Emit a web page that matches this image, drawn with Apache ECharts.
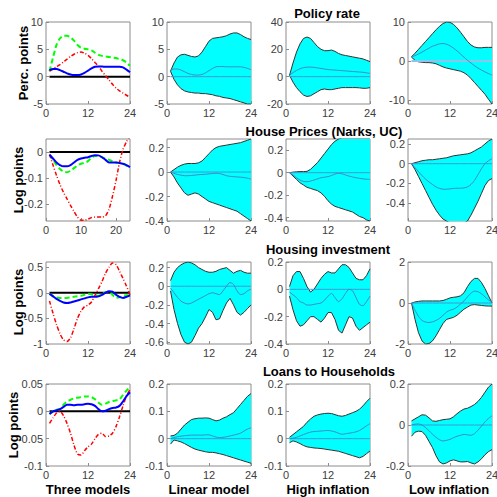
<!DOCTYPE html>
<html>
<head>
<meta charset="utf-8">
<script src="https://cdn.jsdelivr.net/npm/echarts@6/dist/echarts.min.js"></script>
<style>
  html, body { margin: 0; padding: 0; background: #fff; }
  #main { width: 497px; height: 497px; }
</style>
</head>
<body>
<div id="main"></div>
<script>
// horizons (quarters)
const horizons = [1,2,3,4,5,6,7,8,9,10,11,12,13,14,15,16,17,18,19,20,21,22,23,24]

const rowTitles = ['Policy rate', 'House Prices (Narks, UC)', 'Housing investment', 'Loans to Households']
const colLabels = ['Three models', 'Linear model', 'High inflation', 'Low inflation']
const yNames = ['Perc. points', 'Log points', 'Log points', 'Log points']

// ---- Policy rate
const policyBlue = [1.2,1.4,1.4,1.2,0.9,0.6,0.4,0.3,0.3,0.4,0.7,1.1,1.5,1.8,1.85,1.85,1.8,1.8,1.8,1.8,1.8,1.7,1.3,0.8]
const policyGreen = [1.0,3.5,5.8,7.0,7.5,7.5,7.2,6.6,5.8,5.3,5.1,5.0,4.8,4.4,4.0,3.8,3.7,3.6,3.5,3.4,3.2,3.0,2.6,2.0]
const policyRed = [1.0,1.4,1.8,2.2,2.7,3.2,3.7,4.1,4.4,4.5,4.3,3.9,3.3,2.6,1.9,1.0,0.2,-0.6,-1.4,-2.1,-2.6,-3.0,-3.4,-3.8]
const policyLinUp = [1.0,2.5,3.6,4.0,4.1,3.9,3.7,3.6,3.8,4.5,5.5,6.5,7.0,7.1,7.2,7.3,7.5,7.8,8.0,8.0,7.7,7.3,7.0,6.8]
const policyLinLo = [1.0,-0.5,-1.5,-2.2,-2.6,-2.8,-2.9,-3.0,-3.0,-3.1,-3.1,-3.2,-3.3,-3.5,-3.6,-3.8,-3.9,-4.0,-4.2,-4.4,-4.6,-4.8,-5.0,-5.0]
const policyLinMed = [1.2,1.4,1.4,1.2,0.9,0.6,0.4,0.3,0.3,0.4,0.7,1.1,1.5,1.8,1.85,1.85,1.8,1.8,1.8,1.8,1.8,1.7,1.5,1.3]
const policyHiUp = [1,10,18,24,28,29,28,25,22,20,19,19,19.5,18.5,17,16,15.5,15,14.5,14,13.5,13,12,11]
const policyHiLo = [1,-4,-8,-11,-13.5,-14.5,-14,-12.5,-11,-9.5,-9,-9.5,-9.5,-9,-8.5,-8,-8,-8,-8,-8,-8.2,-8.5,-8.5,-8]
const policyHiMed = [1,3,4.5,5.8,6.6,7,7,6.8,6.4,6,5.6,5.2,5,4.8,4.6,4.4,4.2,4,3.8,3.6,3.4,3.2,2.8,2.4]
const policyLoUp = [1.1,2.0,3.0,4.0,5.0,6.0,7.0,8.0,8.9,9.6,10,9.9,9.4,8.5,7.4,6.2,5.0,4.1,3.6,3.4,3.4,3.5,3.5,3.5]
const policyLoLo = [1,0.2,-0.2,-0.3,-0.4,-0.4,-0.5,-0.7,-1.1,-1.5,-1.8,-2.0,-2.2,-2.4,-2.6,-3.0,-3.6,-4.5,-5.5,-6.5,-7.5,-8.5,-9.8,-11]
const policyLoMed = [1,1.4,1.8,2.3,2.8,3.3,3.8,4.1,4.4,4.5,4.3,3.9,3.3,2.6,1.8,1.0,0.2,-0.5,-1.2,-1.8,-2.3,-2.8,-3.2,-3.6]

// ---- House prices
const houseBlue = [-0.01,-0.025,-0.04,-0.05,-0.055,-0.055,-0.05,-0.04,-0.03,-0.025,-0.022,-0.02,-0.015,-0.012,-0.013,-0.02,-0.03,-0.04,-0.04,-0.04,-0.042,-0.045,-0.05,-0.058]
const houseGreen = [-0.01,-0.03,-0.05,-0.065,-0.075,-0.078,-0.072,-0.062,-0.052,-0.045,-0.042,-0.035,-0.022,-0.015,-0.015,-0.02,-0.025,-0.03,-0.035,-0.04,-0.042,-0.045,-0.052,-0.06]
const houseRed = [-0.01,-0.05,-0.09,-0.125,-0.155,-0.18,-0.205,-0.228,-0.25,-0.262,-0.262,-0.258,-0.252,-0.25,-0.25,-0.25,-0.245,-0.22,-0.17,-0.11,-0.04,0.01,0.04,0.06]
const houseLinUp = [0,0.02,0.04,0.055,0.065,0.07,0.07,0.07,0.075,0.09,0.12,0.15,0.18,0.2,0.21,0.215,0.22,0.225,0.23,0.235,0.24,0.25,0.26,0.27]
const houseLinLo = [0,-0.04,-0.09,-0.13,-0.17,-0.19,-0.18,-0.17,-0.18,-0.2,-0.22,-0.24,-0.25,-0.26,-0.27,-0.28,-0.29,-0.3,-0.31,-0.32,-0.34,-0.36,-0.38,-0.4]
const houseLinMed = [0,-0.01,-0.02,-0.025,-0.03,-0.03,-0.028,-0.025,-0.022,-0.02,-0.018,-0.015,-0.012,-0.01,-0.012,-0.02,-0.03,-0.035,-0.038,-0.04,-0.042,-0.045,-0.05,-0.058]
const houseHiUp = [0,0.005,0.008,0.01,0.01,0.012,0.03,0.06,0.09,0.13,0.17,0.21,0.25,0.28,0.3,0.31,0.31,0.31,0.31,0.31,0.31,0.31,0.31,0.31]
const houseHiLo = [0,-0.03,-0.06,-0.09,-0.11,-0.13,-0.14,-0.15,-0.16,-0.18,-0.21,-0.25,-0.28,-0.3,-0.31,-0.32,-0.33,-0.34,-0.35,-0.37,-0.39,-0.4,-0.42,-0.43]
const houseHiMed = [0,-0.02,-0.045,-0.065,-0.078,-0.08,-0.075,-0.065,-0.055,-0.045,-0.04,-0.035,-0.025,-0.012,-0.005,-0.01,-0.02,-0.03,-0.038,-0.045,-0.05,-0.055,-0.058,-0.06]
const houseLoUp = [0,0.01,0.02,0.03,0.035,0.04,0.04,0.045,0.05,0.055,0.06,0.07,0.08,0.085,0.09,0.095,0.1,0.11,0.13,0.15,0.17,0.2,0.23,0.25]
const houseLoLo = [0,-0.06,-0.13,-0.2,-0.27,-0.34,-0.41,-0.47,-0.52,-0.56,-0.58,-0.6,-0.6,-0.6,-0.6,-0.6,-0.58,-0.52,-0.45,-0.38,-0.3,-0.22,-0.17,-0.15]
const houseLoMed = [0,-0.04,-0.08,-0.12,-0.155,-0.185,-0.21,-0.235,-0.25,-0.258,-0.258,-0.255,-0.25,-0.248,-0.248,-0.245,-0.235,-0.21,-0.17,-0.11,-0.05,0.0,0.03,0.05]

// ---- Housing investment
const investBlue = [-0.02,-0.07,-0.12,-0.16,-0.19,-0.2,-0.19,-0.17,-0.15,-0.13,-0.11,-0.09,-0.08,-0.08,-0.07,-0.04,0.0,0.03,0.02,-0.04,-0.08,-0.1,-0.08,-0.05]
const investGreen = [-0.02,-0.06,-0.09,-0.1,-0.1,-0.1,-0.09,-0.08,-0.07,-0.06,-0.04,-0.02,-0.03,-0.05,-0.06,-0.03,0.01,0.02,-0.04,-0.1,-0.09,-0.06,-0.05,-0.05]
const investRed = [-0.16,-0.4,-0.62,-0.8,-0.92,-0.95,-0.88,-0.7,-0.5,-0.36,-0.27,-0.24,-0.18,-0.05,0.08,0.22,0.38,0.5,0.58,0.55,0.42,0.28,0.13,-0.04]
const investLinUp = [0.06,0.15,0.2,0.23,0.25,0.26,0.25,0.23,0.2,0.18,0.16,0.15,0.15,0.16,0.18,0.19,0.2,0.17,0.14,0.16,0.17,0.15,0.14,0.14]
const investLinLo = [-0.05,-0.25,-0.4,-0.52,-0.6,-0.62,-0.6,-0.53,-0.45,-0.4,-0.33,-0.25,-0.28,-0.36,-0.35,-0.26,-0.18,-0.13,-0.2,-0.28,-0.31,-0.28,-0.24,-0.2]
const investLinMed = [-0.02,-0.07,-0.12,-0.16,-0.18,-0.19,-0.18,-0.16,-0.14,-0.12,-0.1,-0.08,-0.07,-0.08,-0.09,-0.05,0.0,0.04,0.02,-0.05,-0.09,-0.08,-0.05,-0.03]
const investHiUp = [0.02,0.1,0.13,0.13,0.08,0.02,-0.02,0.0,0.04,0.08,0.11,0.13,0.12,0.12,0.15,0.18,0.18,0.16,0.12,0.08,0.07,0.07,0.1,0.15]
const investHiLo = [-0.05,-0.15,-0.23,-0.27,-0.26,-0.23,-0.2,-0.2,-0.22,-0.24,-0.21,-0.17,-0.17,-0.22,-0.3,-0.32,-0.26,-0.2,-0.21,-0.27,-0.3,-0.28,-0.26,-0.24]
const investHiMed = [-0.02,-0.04,-0.06,-0.09,-0.1,-0.115,-0.115,-0.11,-0.105,-0.1,-0.08,-0.05,-0.03,-0.06,-0.09,-0.07,-0.03,0.0,-0.01,-0.06,-0.11,-0.12,-0.09,-0.05]
const investLoUp = [0,0.05,0.08,0.1,0.1,0.1,0.1,0.1,0.1,0.12,0.18,0.25,0.28,0.3,0.35,0.5,0.8,1.05,1.2,1.2,1.0,0.7,0.35,0.0]
const investLoLo = [0,-0.8,-1.45,-1.85,-2.0,-1.98,-1.85,-1.6,-1.3,-1.0,-0.8,-0.75,-0.7,-0.6,-0.45,-0.3,-0.2,-0.1,-0.08,-0.1,-0.12,-0.14,-0.15,-0.15]
const investLoMed = [0,-0.35,-0.65,-0.85,-0.93,-0.95,-0.92,-0.85,-0.75,-0.6,-0.45,-0.35,-0.3,-0.2,-0.05,0.1,0.3,0.48,0.58,0.55,0.45,0.3,0.15,0.05]

// ---- Loans to households
const loansBlue = [-0.005,0.0,0.002,0.004,0.008,0.012,0.012,0.011,0.012,0.012,0.013,0.014,0.013,0.01,0.004,0.0,0.001,0.004,0.006,0.007,0.01,0.018,0.028,0.035]
const loansGreen = [-0.005,0.0,0.003,0.004,0.012,0.018,0.021,0.024,0.025,0.026,0.027,0.027,0.026,0.022,0.016,0.012,0.014,0.017,0.019,0.02,0.022,0.03,0.038,0.045]
const loansRed = [-0.022,-0.012,-0.003,0.0,-0.008,-0.022,-0.04,-0.062,-0.078,-0.08,-0.072,-0.065,-0.06,-0.05,-0.042,-0.04,-0.046,-0.045,-0.04,-0.028,-0.01,0.01,0.028,0.04]
const loansLinUp = [0.01,0.012,0.02,0.035,0.05,0.06,0.07,0.073,0.075,0.075,0.076,0.075,0.07,0.065,0.068,0.075,0.08,0.088,0.095,0.11,0.125,0.14,0.155,0.165]
const loansLinLo = [-0.02,-0.005,-0.008,-0.012,-0.018,-0.025,-0.032,-0.038,-0.042,-0.045,-0.048,-0.05,-0.05,-0.052,-0.055,-0.058,-0.062,-0.066,-0.07,-0.074,-0.078,-0.082,-0.086,-0.09]
const loansLinMed = [0.0,0.004,0.007,0.009,0.011,0.012,0.013,0.013,0.013,0.013,0.014,0.014,0.01,0.006,0.004,0.005,0.007,0.01,0.013,0.016,0.02,0.028,0.035,0.04]
const loansHiUp = [0.005,0.015,0.025,0.035,0.045,0.06,0.072,0.082,0.087,0.09,0.092,0.093,0.092,0.088,0.084,0.082,0.085,0.09,0.095,0.1,0.108,0.12,0.135,0.148]
const loansHiLo = [-0.015,-0.008,-0.012,-0.018,-0.025,-0.03,-0.032,-0.034,-0.035,-0.036,-0.038,-0.04,-0.042,-0.044,-0.046,-0.05,-0.054,-0.058,-0.062,-0.066,-0.07,-0.065,-0.055,-0.045]
const loansHiMed = [0.0,0.002,0.005,0.01,0.015,0.02,0.024,0.026,0.027,0.028,0.029,0.03,0.028,0.025,0.02,0.016,0.018,0.02,0.022,0.025,0.03,0.038,0.047,0.055]
const loansLoUp = [0.02,0.03,0.04,0.05,0.048,0.035,0.02,0.018,0.022,0.026,0.028,0.03,0.04,0.055,0.068,0.078,0.082,0.09,0.1,0.115,0.135,0.16,0.185,0.2]
const loansLoLo = [-0.055,-0.035,-0.03,-0.032,-0.05,-0.08,-0.11,-0.15,-0.18,-0.19,-0.185,-0.175,-0.17,-0.175,-0.18,-0.18,-0.178,-0.185,-0.19,-0.18,-0.165,-0.145,-0.13,-0.12]
const loansLoMed = [0.0,0.004,0.005,0.0,-0.012,-0.028,-0.045,-0.06,-0.072,-0.078,-0.075,-0.07,-0.062,-0.055,-0.05,-0.046,-0.048,-0.05,-0.042,-0.025,-0.005,0.015,0.032,0.045]

// axis limits and tick labels, [row][col]
const yMin = [[-5, -5, -20, -11], [-0.265, -0.4, -0.43, -0.58], [-1, -0.62, -0.4, -2], [-0.1, -0.1, -0.1, -0.2]]
const yMax = [[10, 10, 40, 10], [0.05, 0.27, 0.3, 0.25], [0.6, 0.26, 0.2, 2], [0.05, 0.2, 0.2, 0.2]]
const yTicks = [
  [[-5, 0, 5, 10], [-5, 0, 5, 10], [-20, 0, 20, 40], [-10, 0, 10]],
  [[-0.2, -0.1, 0], [-0.4, -0.2, 0, 0.2], [-0.4, -0.2, 0, 0.2], [-0.4, -0.2, 0, 0.2]],
  [[-1, -0.5, 0, 0.5], [-0.6, -0.4, -0.2, 0, 0.2], [-0.4, -0.2, 0, 0.2], [-2, 0, 2]],
  [[-0.1, -0.05, 0, 0.05], [-0.1, 0, 0.1, 0.2], [-0.1, 0, 0.1, 0.2], [-0.2, 0, 0.2]],
]
const xTicks = [0, 12, 24]
const xTicksAlt = [0, 10, 20]

const threeModels = [
  [policyBlue, policyGreen, policyRed],
  [houseBlue, houseGreen, houseRed],
  [investBlue, investGreen, investRed],
  [loansBlue, loansGreen, loansRed],
]
const bands = [
  [[policyLinUp, policyLinLo, policyLinMed], [policyHiUp, policyHiLo, policyHiMed], [policyLoUp, policyLoLo, policyLoMed]],
  [[houseLinUp, houseLinLo, houseLinMed], [houseHiUp, houseHiLo, houseHiMed], [houseLoUp, houseLoLo, houseLoMed]],
  [[investLinUp, investLinLo, investLinMed], [investHiUp, investHiLo, investHiMed], [investLoUp, investLoLo, investLoMed]],
  [[loansLinUp, loansLinLo, loansLinMed], [loansHiUp, loansHiLo, loansHiMed], [loansLoUp, loansLoLo, loansLoMed]],
]

const FONT = '"Liberation Sans", Arial, sans-serif'
const colLeft = [46, 167, 286, 408]
const rowTop = [22, 139, 262, 384]
const fmt = v => String(+(+v).toFixed(4))
const pairs = arr => horizons.map((h, k) => [h, arr[k]])
const zeros = horizons.map(h => [h, 0])

// cyan confidence band as one polygon, through the axes' own scales
function bandRenderer (up, lo) {
  return function (params, api) {
    if (params.dataIndex !== 0) return null
    const top = horizons.map((h, k) => api.coord([h, up[k]]))
    const bot = horizons.map((h, k) => api.coord([h, lo[k]])).reverse()
    const cs = params.coordSys
    return {
      type: 'polygon',
      shape: { points: top.concat(bot) },
      style: { fill: '#00ffff', stroke: null },
      clipPath: { type: 'rect', shape: { x: cs.x, y: cs.y, width: cs.width, height: cs.height } },
    }
  }
}

let grids = [], xAxes = [], yAxes = [], series = []

for (let r = 0; r < 4; r++) {
  for (let c = 0; c < 4; c++) {
    const gi = grids.length
    grids.push({
      left: colLeft[c], top: rowTop[r], width: 84, height: 82,
      show: true, borderColor: '#8c8c8c', borderWidth: 1,
      outerBoundsMode: 'none',
    })
    const xt = (r === 1 && c === 0) ? xTicksAlt : xTicks
    xAxes.push({
      type: 'value', gridIndex: gi, min: 0, max: 24,
      axisLine: { show: false, onZero: false },
      splitLine: { show: false },
      axisTick: { inside: true, length: 3, customValues: xt, lineStyle: { color: '#8c8c8c' } },
      axisLabel: { customValues: xt, formatter: fmt, color: '#404040', fontSize: 11, fontFamily: FONT, margin: 3 },
    })
    yAxes.push({
      type: 'value', gridIndex: gi, min: yMin[r][c], max: yMax[r][c],
      axisLine: { show: false, onZero: false },
      splitLine: { show: false },
      axisTick: { inside: true, length: 3, customValues: yTicks[r][c], lineStyle: { color: '#8c8c8c' } },
      axisLabel: { customValues: yTicks[r][c], formatter: fmt, color: '#404040', fontSize: 11, fontFamily: FONT, margin: 3 },
    })
    const base = { type: 'line', xAxisIndex: gi, yAxisIndex: gi, symbol: 'none', smooth: 0.25, silent: true }
    if (c === 0) {
      const [b, g, rd] = threeModels[r]
      series.push({ ...base, data: zeros, smooth: false, lineStyle: { color: '#000', width: 2 } })
      series.push({ ...base, data: pairs(g), lineStyle: { color: '#00ff00', width: 2, type: [5, 3] } })
      series.push({ ...base, data: pairs(rd), lineStyle: { color: '#ff0000', width: 1.5, type: [4, 2, 1, 2] } })
      series.push({ ...base, data: pairs(b), lineStyle: { color: '#0000ff', width: 2 } })
    } else {
      const [up, lo, med] = bands[r][c - 1]
      series.push({
        type: 'custom', xAxisIndex: gi, yAxisIndex: gi, silent: true,
        data: horizons.map((h, k) => [h, up[k], lo[k]]),
        encode: { x: 0, y: [1, 2] },
        renderItem: bandRenderer(up, lo),
      })
      series.push({ ...base, data: pairs(up), smooth: false, lineStyle: { color: '#333', width: 1 } })
      series.push({ ...base, data: pairs(lo), smooth: false, lineStyle: { color: '#333', width: 1 } })
      const thick = (r === 0 && c === 3)
      series.push({ ...base, data: zeros, smooth: false, lineStyle: { color: thick ? '#8cc4ec' : '#3d9ad6', width: thick ? 2 : 1 } })
      series.push({ ...base, data: pairs(med), lineStyle: { color: '#3a8cc6', width: 1 } })
    }
  }
}

const titlePos = [[327, 13], [324, 131], [328, 249], [329, 371]]
const colLabelX = [88, 209, 328, 449]
const yNamePos = [[23, 63], [18, 180], [18, 302], [13, 425]]
let graphic = []
rowTitles.forEach((t, i) => graphic.push({
  type: 'text', x: titlePos[i][0], y: titlePos[i][1],
  style: { text: t, font: 'bold 13px ' + FONT, fill: '#000', textAlign: 'center', textVerticalAlign: 'middle' },
}))
colLabels.forEach((t, i) => graphic.push({
  type: 'text', x: colLabelX[i], y: 489,
  style: { text: t, font: 'bold 13px ' + FONT, fill: '#000', textAlign: 'center', textVerticalAlign: 'middle' },
}))
yNames.forEach((t, i) => graphic.push({
  type: 'text', x: yNamePos[i][0], y: yNamePos[i][1], rotation: Math.PI / 2,
  style: { text: t, font: 'bold 13px ' + FONT, fill: '#000', textAlign: 'center', textVerticalAlign: 'middle' },
}))

const chart = echarts.init(document.getElementById('main'), null, { renderer: 'svg' })
chart.setOption({
  animation: false,
  backgroundColor: '#fff',
  grid: grids,
  xAxis: xAxes,
  yAxis: yAxes,
  series: series,
  graphic: graphic,
})
</script>
</body>
</html>
